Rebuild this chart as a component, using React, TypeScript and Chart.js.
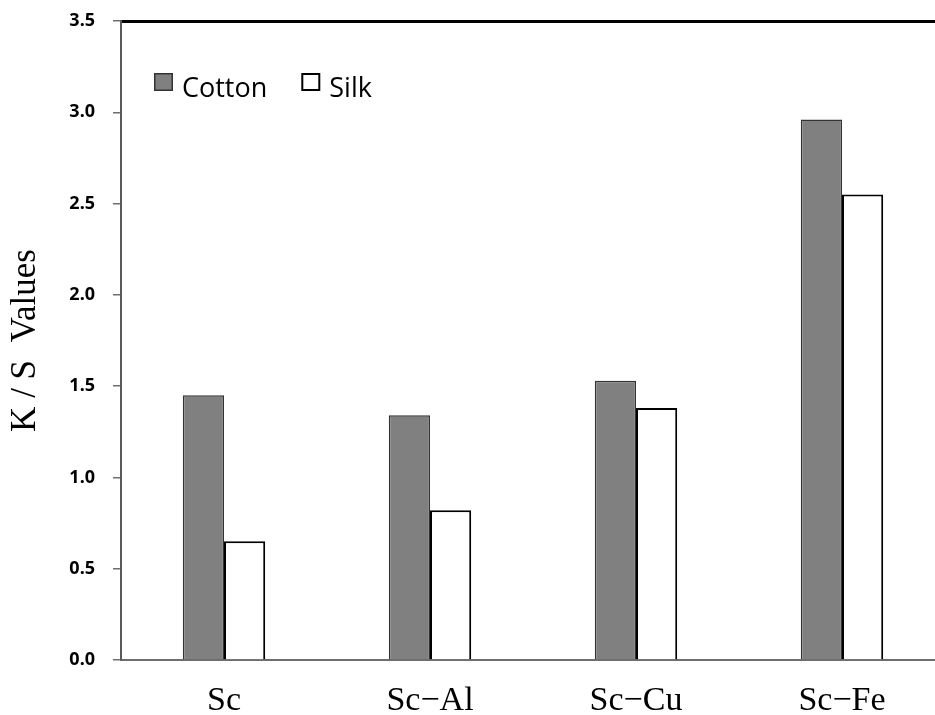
import React, { useEffect, useRef } from "react";
import { Chart, registerables } from "chart.js";

Chart.register(...registerables);

const categories = ["Sc", "Sc\u2212Al", "Sc\u2212Cu", "Sc\u2212Fe"];
const cottonValues = [1.45, 1.34, 1.53, 2.96];
const silkValues = [0.65, 0.82, 1.38, 2.55];
const seriesNames = ["Cotton", "Silk"];
const yTicks = { min: 0, max: 3.5, step: 0.5 };

const insideLegend = {
  id: "insideLegend",
  afterDraw(chart: any) {
    const { ctx, chartArea } = chart;
    let x = chartArea.left + 33;
    const top = chartArea.top + 52;
    const bw = 19;
    const bh = 18;
    ctx.save();
    ctx.font = '27px "Open Sans"';
    ctx.textBaseline = "alphabetic";
    ctx.textAlign = "left";
    chart.data.datasets.forEach((ds: any) => {
      ctx.fillStyle = ds.backgroundColor;
      ctx.fillRect(x, top, bw, bh);
      ctx.strokeStyle = ds.borderColor;
      ctx.lineWidth = ds.legendBorder;
      ctx.strokeRect(x + ds.legendBorder / 2, top + ds.legendBorder / 2, bw - ds.legendBorder, bh - ds.legendBorder);
      ctx.fillStyle = "#000";
      ctx.fillText(ds.label, x + bw + 9, top + 24);
      x += bw + 9 + ctx.measureText(ds.label).width + 34;
    });
    ctx.restore();
  },
};

export default function App() {
  const ref = useRef<HTMLCanvasElement>(null);
  useEffect(() => {
    if (!ref.current) return;
    const chart = new Chart(ref.current, {
      type: "bar",
      data: {
        labels: categories,
        datasets: [
          {
            label: seriesNames[0],
            data: cottonValues,
            backgroundColor: "#808080",
            borderColor: "#333333",
            borderWidth: 1.5,
            legendBorder: 1.5,
          } as any,
          {
            label: seriesNames[1],
            data: silkValues,
            backgroundColor: "#ffffff",
            borderColor: "#000000",
            borderWidth: 2,
            legendBorder: 2,
          } as any,
        ],
      },
      options: {
        animation: false,
        responsive: false,
        maintainAspectRatio: false,
        devicePixelRatio: 1,
        layout: { padding: { top: 21, right: 15, left: 0, bottom: 0 } },
        datasets: { bar: { categoryPercentage: 0.4, barPercentage: 1 } },
        plugins: {
          legend: { display: false },
          tooltip: { enabled: false },
        },
        scales: {
          x: {
            type: "category",
            position: "bottom",
            grid: { display: false, drawTicks: false },
            border: { display: true, color: "#6e6e6e", width: 2 },
            ticks: {
              padding: 21,
              color: "#000",
              maxRotation: 0,
              autoSkip: false,
              font: { family: '"Liberation Serif", serif', size: 34 },
            },
            afterFit: (s: any) => {
              s.height = 55;
              s.paddingLeft = 0;
              s.paddingRight = 0;
            },
          },
          xTop: {
            type: "category",
            position: "top",
            labels: categories,
            grid: { display: false, drawTicks: false },
            border: { display: true, color: "#000", width: 3 },
            ticks: { display: false },
            afterFit: (s: any) => {
              s.height = 0;
              s.paddingLeft = 0;
              s.paddingRight = 0;
            },
          },
          y: {
            min: yTicks.min,
            max: yTicks.max,
            grid: {
              display: true,
              drawOnChartArea: false,
              drawTicks: true,
              tickLength: 8,
              color: "#6e6e6e",
              lineWidth: 1.5,
            },
            border: { display: true, color: "#5a5a5a", width: 2 },
            ticks: {
              stepSize: yTicks.step,
              padding: 18,
              color: "#000",
              font: { family: '"Noto Sans", sans-serif', size: 18, weight: "bold" },
              callback: (v: any) => Number(v).toFixed(1),
            },
            title: {
              display: true,
              text: "K / S  Values",
              color: "#000",
              font: { family: '"Liberation Serif", serif', size: 35 },
              padding: { top: 5, bottom: 0 },
            },
            afterFit: (s: any) => {
              s.width = 121;
              s.paddingTop = 0;
              s.paddingBottom = 0;
            },
          },
        },
      } as any,
      plugins: [insideLegend],
    });
    return () => chart.destroy();
  }, []);
  return (
    <div
      style={{
        position: "fixed",
        left: 0,
        top: 0,
        width: 935,
        height: 715,
        overflow: "hidden",
        background: "#fff",
      }}
    >
      <canvas ref={ref} width={960} height={715} style={{ display: "block", width: 960, height: 715 }} />
    </div>
  );
}
